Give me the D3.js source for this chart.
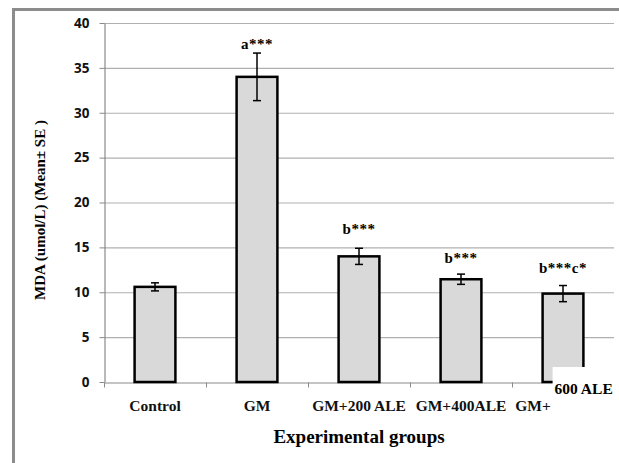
<!DOCTYPE html>
<html>
<head>
<meta charset="utf-8">
<script src="https://cdn.jsdelivr.net/npm/d3@7"></script>
<style>
  body { margin: 0; background: #fff; }
  svg { display: block; }
</style>
</head>
<body>
<div id="chart"></div>
<script>
var width = 619,
    height = 463;

// data
var groups = ["Control", "GM", "GM+200 ALE", "GM+400ALE", "GM+ 600 ALE"];
var means = [10.6, 34.0, 14.0, 11.45, 9.85];
var errors = [0.45, 2.65, 0.9, 0.57, 0.9];
var marks = ["", "a***", "b***", "b***", "b***c*"];
var markAt = [0, 37.1, 16.5, 13.25, 12.15];   // label heights in axis units
var yTicks = [0, 5, 10, 15, 20, 25, 30, 35, 40];

var margin = {top: 23, right: 5, bottom: 81, left: 104};
var serif = "'Liberation Serif', 'Times New Roman', serif";

var svg = d3.select("#chart").append("svg")
    .attr("width", width)
    .attr("height", height);

// outer frame (left and top only are visible)
svg.append("path")
    .attr("d", "M13.5," + height + "V9.5H" + width)
    .attr("fill", "none")
    .attr("stroke", "#8c8c8c")
    .attr("stroke-width", 3);

var x = d3.scaleBand()
    .domain(groups)
    .range([margin.left, width - margin.right])
    .paddingInner(0.6)
    .paddingOuter(0.3);

var y = d3.scaleLinear()
    .domain([0, 40])
    .range([height - margin.bottom, margin.top]);

// gridlines
svg.append("g")
    .selectAll("line")
    .data(yTicks.slice(1))
    .enter().append("line")
    .attr("x1", margin.left)
    .attr("x2", width - margin.right)
    .attr("y1", function (d) { return y(d) + 0.5; })
    .attr("y2", function (d) { return y(d) + 0.5; })
    .attr("stroke", "#b0b0b0")
    .attr("stroke-width", 1.2);

// y axis
var yAxis = svg.append("g")
    .attr("transform", "translate(" + (margin.left + 0.5) + ",0)")
    .call(d3.axisLeft(y).tickValues(yTicks).tickSize(5).tickSizeOuter(0).tickPadding(10));
yAxis.select(".domain").attr("stroke", "#8a8a8a").attr("stroke-width", 1.2);
yAxis.selectAll(".tick line").attr("stroke", "#8a8a8a");
yAxis.selectAll(".tick text")
    .attr("fill", "#111")
    .style("font-family", "'Open Sans', sans-serif")
    .style("font-weight", "bold")
    .style("font-size", "13.5px");

// x axis with ticks on band boundaries
var xAxis = svg.append("g")
    .attr("transform", "translate(0," + (y(0) + 0.5) + ")")
    .call(d3.axisBottom(x).tickSize(0).tickPadding(17)
        .tickFormat(function (d, i) { return i === groups.length - 1 ? "GM+" : d; }));
xAxis.select(".domain").attr("stroke", "#8a8a8a").attr("stroke-width", 1.2);
xAxis.selectAll(".tick text")
    .attr("fill", "#111")
    .style("font-family", serif)
    .style("font-weight", "bold")
    .style("font-size", "15.5px");
xAxis.selectAll(".tick")
    .filter(function (d, i) { return i === groups.length - 1; })
    .select("text")
    .attr("dx", -30);

var step = x.step();
xAxis.selectAll(".bound")
    .data(d3.range(groups.length + 1))
    .enter().append("line")
    .attr("class", "bound")
    .attr("x1", function (i) { return margin.left + i * step + 0.5; })
    .attr("x2", function (i) { return margin.left + i * step + 0.5; })
    .attr("y1", 0)
    .attr("y2", 5)
    .attr("stroke", "#8a8a8a");

// bars
svg.append("g")
    .selectAll("rect")
    .data(groups)
    .enter().append("rect")
    .attr("x", function (d) { return x(d); })
    .attr("width", x.bandwidth())
    .attr("y", function (d, i) { return y(means[i]); })
    .attr("height", function (d, i) { return y(0) - y(means[i]); })
    .attr("fill", "#d9d9d9")
    .attr("stroke", "#000")
    .attr("stroke-width", 2.5);

// error bars
var eb = svg.append("g")
    .attr("stroke", "#000")
    .attr("stroke-width", 1.5)
    .selectAll("g")
    .data(groups)
    .enter().append("g");
eb.append("line")
    .attr("x1", function (d) { return x(d) + x.bandwidth() / 2; })
    .attr("x2", function (d) { return x(d) + x.bandwidth() / 2; })
    .attr("y1", function (d, i) { return y(means[i] + errors[i]); })
    .attr("y2", function (d, i) { return y(means[i] - errors[i]); });
eb.append("line")
    .attr("x1", function (d) { return x(d) + x.bandwidth() / 2 - 4; })
    .attr("x2", function (d) { return x(d) + x.bandwidth() / 2 + 4; })
    .attr("y1", function (d, i) { return y(means[i] + errors[i]); })
    .attr("y2", function (d, i) { return y(means[i] + errors[i]); });
eb.append("line")
    .attr("x1", function (d) { return x(d) + x.bandwidth() / 2 - 4; })
    .attr("x2", function (d) { return x(d) + x.bandwidth() / 2 + 4; })
    .attr("y1", function (d, i) { return y(means[i] - errors[i]); })
    .attr("y2", function (d, i) { return y(means[i] - errors[i]); });

// significance letters
svg.append("g")
    .selectAll("text")
    .data(groups)
    .enter().append("text")
    .attr("x", function (d) { return x(d) + x.bandwidth() / 2; })
    .attr("y", function (d, i) { return y(markAt[i]); })
    .attr("text-anchor", "middle")
    .style("font-family", serif)
    .style("font-weight", "bold")
    .style("font-size", "15px")
    .style("letter-spacing", "0.5px")
    .text(function (d, i) { return marks[i]; });

// white text box holding the second line of the last label
var last = groups[groups.length - 1];
svg.append("rect")
    .attr("x", x(last) + 10)
    .attr("y", 367)
    .attr("width", width - x(last) - 10)
    .attr("height", 31)
    .attr("fill", "#fff");
svg.append("text")
    .attr("x", x(last) + 12)
    .attr("y", 394)
    .style("font-family", serif)
    .style("font-weight", "bold")
    .style("font-size", "15.5px")
    .text("600 ALE");

// axis titles
svg.append("text")
    .attr("transform", "translate(45," + 210 + ") rotate(-90)")
    .attr("text-anchor", "middle")
    .style("font-family", serif)
    .style("font-weight", "bold")
    .style("font-size", "15px")
    .text("MDA (umol/L) (Mean± SE )");

svg.append("text")
    .attr("x", 359)
    .attr("y", 443)
    .attr("text-anchor", "middle")
    .style("font-family", serif)
    .style("font-weight", "bold")
    .style("font-size", "19px")
    .text("Experimental groups");
</script>
</body>
</html>
